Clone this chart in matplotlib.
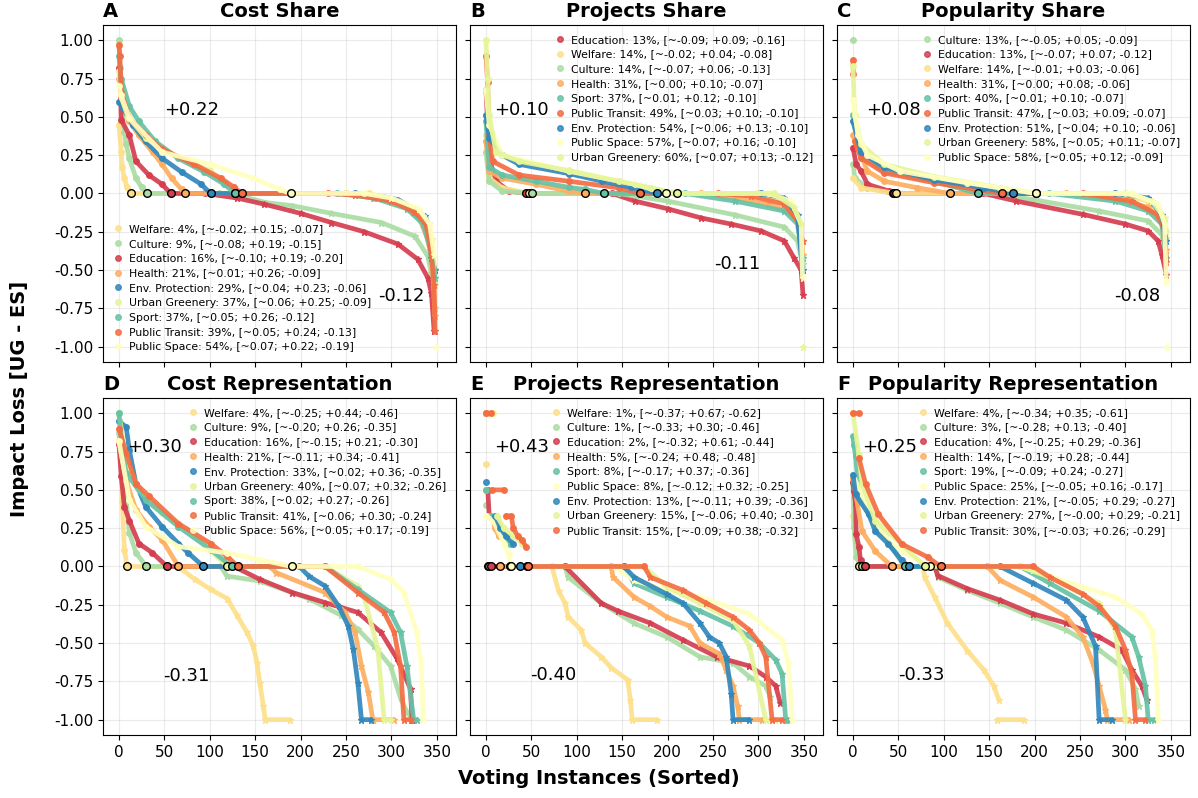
#!/usr/bin/env python3
"""
Impact loss per category: sorted voting instances, six panels
"""

import numpy as np
import matplotlib
matplotlib.use('Agg')
import matplotlib.pyplot as plt
from matplotlib.lines import Line2D

plt.rcParams['font.family'] = 'DejaVu Sans'

# Цвета категорий (палитра Spectral)
COLORS = {
    'Education': '#d53e4f',
    'Public Transit': '#f46d43',
    'Health': '#fdae61',
    'Welfare': '#fee08b',
    'Public Space': '#ffffbf',
    'Urban Greenery': '#e6f598',
    'Culture': '#abdda4',
    'Sport': '#66c2a5',
    'Env. Protection': '#3288bd',
}

N = None  # break in a curve

# ---------------- A: Cost Share ----------------
A_NAMES = ['Welfare', 'Culture', 'Education', 'Health', 'Env. Protection',
           'Urban Greenery', 'Sport', 'Public Transit', 'Public Space']
A_PCT = [4, 9, 16, 21, 29, 37, 37, 39, 54]
A_MEAN = [-0.02, -0.08, -0.10, 0.01, 0.04, 0.06, 0.05, 0.05, 0.07]
A_POS = [0.15, 0.19, 0.19, 0.26, 0.23, 0.25, 0.26, 0.24, 0.22]
A_NEG = [-0.07, -0.15, -0.20, -0.09, -0.06, -0.09, -0.12, -0.13, -0.19]
A_CURVES = [
    [(0, 0.45), (2.5, 0.27), (3.6, 0.17), (6, 0.1), (9, 0.04), (13, 0), (275, 0), (300, -0.04),
     (325, -0.1), (338, -0.2), (344, -0.33), (348, -0.5)],
    [(0, 1.0), (1, 0.82), (3, 0.6), (6, 0.4), (8, 0.32), (11.5, 0.23), (18.7, 0.1), (25, 0.04), (31, 0),
     (110, 0), (130, -0.01), (162, -0.06), (191, -0.08), (234, -0.13), (289, -0.19), (326, -0.28),
     (340, -0.41), (344, -0.52), (348, -0.75)],
    [(0, 0.82), (1.4, 0.75), (2.5, 0.48), (11.5, 0.38), (18.7, 0.21), (33, 0.12), (47.5, 0.06), (57, 0),
     (95, 0), (130, -0.03), (160, -0.07), (200, -0.13), (234, -0.19), (270, -0.25), (307, -0.33),
     (329, -0.43), (340, -0.55), (344, -0.65), (347, -0.9)],
    [(0, 0.75), (2.5, 0.7), (4.3, 0.6), (11.5, 0.47), (22, 0.38), (37, 0.27), (47.5, 0.19), (58, 0.1),
     (69, 0.026), (73, 0), (250, 0), (280, -0.03), (310, -0.07), (330, -0.15), (340, -0.3),
     (345, -0.45), (348, -0.8)],
    [(0, 0.6), (4.3, 0.56), (15, 0.45), (29.5, 0.34), (47.5, 0.23), (69, 0.14), (90.6, 0.06), (101, 0),
     (260, 0), (290, -0.02), (307, -0.04), (325, -0.1), (337, -0.15), (341, -0.2), (344, -0.42),
     (348, -0.5)],
    [(0, 0.8), (3, 0.62), (10, 0.5), (30, 0.36), (50, 0.28), (80, 0.2), (100, 0.15), (115, 0.08),
     (128, 0), (250, 0), (290, -0.02), (320, -0.08), (335, -0.15), (345, -0.3), (348, -0.6)],
    [(0, 0.9), (2.5, 0.75), (11.5, 0.57), (22, 0.47), (40, 0.34), (65, 0.23), (94, 0.14), (116, 0.06),
     (128, 0), (240, 0), (281, -0.03), (317, -0.1), (335, -0.2), (342, -0.35), (348, -0.55)],
    [(0, 0.97), (1, 0.9), (2.5, 0.66), (11.5, 0.49), (29.5, 0.38), (47.5, 0.29), (83, 0.19), (112, 0.1),
     (127, 0.04), (135, 0), (230, 0), (260, -0.01), (300, -0.05), (325, -0.12), (338, -0.2),
     (343, -0.35), (347, -0.6), (348, -0.9)],
    [(0, 0.7), (2.5, 0.64), (11.5, 0.49), (47.5, 0.27), (101, 0.19), (148, 0.1), (177, 0.026), (189, 0),
     (270, 0), (300, -0.03), (330, -0.1), (342, -0.2), (347, -0.4), N, (349, -1.0)],
]
A_TEXT = [('+0.22', 80, 0.545), ('-0.12', 311, -0.667)]

# ---------------- B: Projects Share ----------------
B_NAMES = ['Education', 'Welfare', 'Culture', 'Health', 'Sport', 'Public Transit',
           'Env. Protection', 'Public Space', 'Urban Greenery']
B_PCT = [13, 14, 14, 31, 37, 49, 54, 57, 60]
B_MEAN = [-0.09, -0.02, -0.07, 0.00, 0.01, 0.03, 0.06, 0.07, 0.07]
B_POS = [0.09, 0.04, 0.06, 0.10, 0.12, 0.10, 0.13, 0.16, 0.13]
B_NEG = [-0.16, -0.08, -0.13, -0.07, -0.10, -0.10, -0.10, -0.10, -0.12]
B_CURVES = [
    [(0, 0.675), (2, 0.45), (3.6, 0.23), (11, 0.08), (25.5, 0.015), (44.5, 0), (139, 0), (164, -0.05),
     (200, -0.1), (237, -0.16), (270, -0.2), (303, -0.245), (328.5, -0.31), (339, -0.42), (347, -0.5),
     (349, -0.66)],
    [(0, 0.38), (3.6, 0.1), (18, 0.037), (47.4, 0), (300, 0), (330, -0.05), (345, -0.2), (349, -0.4)],
    [(0, 0.27), (3.6, 0.08), (18, 0.015), (50.4, 0), (146, 0), (200, -0.05), (274, -0.14),
     (328.5, -0.22), (343, -0.31), (348.5, -0.46)],
    [(0, 0.34), (3.6, 0.145), (18, 0.1), (55, 0.06), (91, 0.015), (109.5, 0), (237, 0), (274, -0.03),
     (310, -0.07), (332, -0.115), (347, -0.2), (348.5, -0.4)],
    [(0, 0.47), (3.6, 0.17), (18, 0.12), (55, 0.08), (91, 0.04), (109.5, 0.026), (129.6, 0), (219, 0),
     (274, -0.05), (328.5, -0.115), (343, -0.2), (348.5, -0.42)],
    [(0, 0.9), (1.8, 0.73), (3.6, 0.38), (7.3, 0.21), (36.5, 0.12), (91, 0.08), (146, 0.037), (170, 0),
     (255, 0), (292, -0.017), (328.5, -0.07), (343, -0.18), (348.5, -0.31)],
    [(0, 0.51), (3.6, 0.36), (18, 0.25), (36.5, 0.19), (91, 0.13), (128, 0.08), (160, 0.04), (188, 0),
     (303, 0), (328.5, -0.03), (343, -0.14), (348.5, -0.5)],
    [(0, 0.675), (3.6, 0.45), (18, 0.25), (91, 0.145), (164, 0.06), (198.5, 0), (310, 0), (336, -0.05),
     (347, -0.2), (348.5, -0.55)],
    [(0, 1.0), (1.8, 0.75), (3.6, 0.51), (11, 0.27), (36.5, 0.21), (91, 0.15), (146, 0.08),
     (182, 0.037), (210, 0), (317, 0), (339, -0.09), (347, -0.2), N, (349, -1.0)],
]
B_TEXT = [('+0.10', 39.6, 0.545), ('-0.11', 277, -0.46)]

# ---------------- C: Popularity Share ----------------
C_NAMES = ['Culture', 'Education', 'Welfare', 'Health', 'Sport', 'Public Transit',
           'Env. Protection', 'Urban Greenery', 'Public Space']
C_PCT = [13, 13, 14, 31, 40, 47, 51, 58, 58]
C_MEAN = [-0.05, -0.07, -0.01, 0.00, 0.01, 0.03, 0.04, 0.05, 0.05]
C_POS = [0.05, 0.07, 0.03, 0.08, 0.10, 0.09, 0.10, 0.11, 0.12]
C_NEG = [-0.09, -0.12, -0.06, -0.06, -0.07, -0.07, -0.06, -0.07, -0.09]
C_CURVES = [
    [(0, 1.0), N, (0.5, 0.19), (1.8, 0.1), (16, 0.037), (43.6, 0), (151, 0), (198, -0.04),
     (271, -0.115), (325, -0.18), (340, -0.27), (345, -0.42)],
    [(0, 0.3), (3.6, 0.19), (9, 0.145), (16, 0.06), (40, 0.015), (45.5, 0), (143.6, 0), (180, -0.05),
     (252.7, -0.136), (300, -0.2), (325, -0.245), (336, -0.31), (340, -0.4), (345, -0.53)],
    [(0, 0.1), (9, 0.037), (47.3, 0), (289, 0), (325, -0.05), (340, -0.14), (345, -0.29)],
    [(0, 0.38), (5.5, 0.3), (16, 0.145), (34.5, 0.08), (71, 0.037), (107, 0), (234.5, 0), (289, -0.04),
     (325, -0.09), (340, -0.2), (345, -0.37)],
    [(0, 0.51), (9, 0.25), (34.5, 0.145), (89, 0.08), (137.5, 0), (216, 0), (289, -0.05),
     (325, -0.115), (340, -0.2), (345, -0.42)],
    [(0, 0.87), (0.5, 0.78), N, (1.8, 0.34), (9, 0.23), (34.5, 0.134), (89, 0.07), (164, 0), (253, 0),
     (307, -0.05), (336, -0.14), (343, -0.245), (345, -0.45)],
    [(0, 0.47), (9, 0.27), (34.5, 0.17), (89, 0.09), (144, 0.037), (176, 0), (289, 0), (325, -0.03),
     (340, -0.14), (345, -0.31)],
    [(0, 0.83), (1.8, 0.51), (9, 0.32), (34.5, 0.19), (89, 0.11), (162, 0.037), (201, 0), (300, 0),
     (329, -0.05), (343, -0.16), (345, -0.245)],
    [(0, 0.61), (5.5, 0.38), (16, 0.25), (52, 0.145), (125, 0.07), (202, 0), (307, 0), (336, -0.07),
     (343, -0.2), (345, -0.58), N, (346, -1.0)],
]
C_TEXT = [('+0.08', 45, 0.545), ('-0.08', 313, -0.667)]

# ---------------- D: Cost Representation ----------------
D_NAMES = ['Welfare', 'Culture', 'Education', 'Health', 'Env. Protection',
           'Urban Greenery', 'Sport', 'Public Transit', 'Public Space']
D_PCT = [4, 9, 16, 21, 33, 40, 38, 41, 56]
D_MEAN = [-0.25, -0.20, -0.15, -0.11, 0.02, 0.07, 0.02, 0.06, 0.05]
D_POS = [0.44, 0.26, 0.21, 0.34, 0.36, 0.32, 0.27, 0.30, 0.17]
D_NEG = [-0.46, -0.35, -0.30, -0.41, -0.35, -0.26, -0.26, -0.24, -0.19]
D_CURVES = [
    [(0, 1.0), (2.5, 0.8), (3.6, 0.43), (6, 0.11), (9, 0), (65, 0), (83.5, -0.084), (101, -0.15),
     (119.4, -0.21), (130, -0.32), (141, -0.43), (148, -0.52), (152, -0.63), (155, -0.76),
     (159, -0.91), (161, -1.0), (188, -1.0)],
    [(0, 0.87), (2.5, 0.69), (8, 0.43), (11.5, 0.22), (18.7, 0.09), (30, 0), (112, 0), (119, -0.063),
     (155, -0.095), (209, -0.21), (245, -0.32), (263, -0.41), (281, -0.52), (299, -0.65),
     (310, -0.86), (317, -0.95), (324, -1.0)],
    [(0, 0.8), (2.5, 0.59), (6, 0.39), (11.5, 0.3), (22, 0.15), (36.7, 0.09), (53, 0), (126.6, 0),
     (155, -0.084), (191, -0.17), (227, -0.236), (263, -0.3), (288.5, -0.43), (306, -0.6),
     (321, -0.8), (322.6, -1.0)],
    [(0, 0.82), (8, 0.56), (18.7, 0.37), (33, 0.26), (47.5, 0.175), (65.5, 0), (166, 0), (173, -0.04),
     (227, -0.17), (249, -0.3), (260, -0.43), (267, -0.65), (274.5, -0.82), (279.5, -1.0),
     (303, -1.0)],
    [(0, 0.95), (8, 0.91), (11.5, 0.76), (18.7, 0.54), (29.5, 0.39), (47.5, 0.26), (65.5, 0.15),
     (76, 0.09), (93, 0), (198.6, 0), (209, -0.063), (227, -0.128), (242, -0.26), (252.5, -0.39),
     (258, -0.54), (263, -0.76), (267, -1.0), (277.7, -1.0)],
    [(0, 1.0), (8, 0.69), (22, 0.5), (47.5, 0.35), (83.5, 0.2), (119.4, 0), (227, 0), (263, -0.128),
     (270.5, -0.21), (285, -0.54), (292, -1.0), (300, -1.0)],
    [(0, 1.0), (4, 0.75), (8, 0.61), (29.5, 0.435), (65.5, 0.26), (101, 0.11), (124, 0), (227, 0),
     (263, -0.15), (299, -0.3), (310, -0.43), (317, -0.65), (324.5, -1.0), (328, -1.0)],
    [(0, 0.9), (8, 0.74), (18.7, 0.54), (33, 0.46), (65.5, 0.28), (101, 0.15), (119, 0.067), (131, 0),
     (227, 0), (263, -0.17), (292, -0.3), (303, -0.43), (310, -0.65), (313.7, -1.0), (321, -1.0)],
    [(0, 0.82), (11.5, 0.435), (29.5, 0.26), (65.5, 0.13), (119, 0.089), (155, 0.045), (190, 0),
     (263, 0), (299, -0.084), (313.7, -0.17), (328, -0.43), (333, -0.65), (335, -1.0)],
]
D_TEXT = [('+0.30', 39.6, 0.78), ('-0.31', 74, -0.718)]

# ---------------- E: Projects Representation ----------------
E_NAMES = ['Welfare', 'Culture', 'Education', 'Health', 'Sport', 'Public Space',
           'Env. Protection', 'Urban Greenery', 'Public Transit']
E_PCT = [1, 1, 2, 5, 8, 8, 13, 15, 15]
E_MEAN = [-0.37, -0.33, -0.32, -0.24, -0.17, -0.12, -0.11, -0.06, -0.09]
E_POS = [0.67, 0.30, 0.61, 0.48, 0.37, 0.32, 0.39, 0.40, 0.38]
E_NEG = [-0.62, -0.46, -0.44, -0.48, -0.36, -0.25, -0.36, -0.30, -0.32]
E_CURVES = [
    [(0, 0.67), N, (1.8, 0), (72.5, 0), (80, -0.16), (87, -0.24), (90.6, -0.33), (105, -0.415),
     (109, -0.5), (127, -0.59), (137.7, -0.66), (156, -0.74), (159, -0.87), (161, -1.0), (188, -1.0)],
    [(0, 0.4), N, (3, 0), (87, 0), (90.6, -0.07), (127, -0.24), (163, -0.37), (199, -0.46),
     (235.5, -0.59), (272, -0.63), (290, -0.72), (308, -0.78), (313, -0.85)],
    [(0, 1.0), N, (2, 0.5), (3.6, 0.33), N, (5.4, 0), (87, 0), (127, -0.24), (145, -0.29),
     (181, -0.37), (217, -0.48), (254, -0.59), (290, -0.65), (308, -0.72), (319, -0.78), (324, -0.89)],
    [(0, 0.5), N, (2, 0.33), (6, 0.33), (10, 0.25), (14, 0.2), N, (15.6, 0), (137.7, 0), (140, -0.07),
     (163, -0.2), (181, -0.26), (199, -0.33), (224.6, -0.39), (235.5, -0.5), (257, -0.57),
     (264.5, -0.675), (272, -0.78), (277, -0.91), (279, -1.0), (304, -1.0)],
    [(0, 0.5), N, (5, 0.33), (15, 0.25), (22, 0.2), (26, 0.15), N, (27, 0), (152, 0), (163, -0.11),
     (199, -0.2), (235.5, -0.29), (272, -0.39), (301, -0.5), (319, -0.61), (326, -0.7), (330, -1.0),
     (333, -1.0)],
    [(0, 0.33), (8, 0.3), (20, 0.15), (25, 0.08), (28, 0), (141, 0), (163, -0.09), (199, -0.156),
     (235.5, -0.2), (290, -0.31), (326, -0.48), (333, -0.63), (337, -1.0)],
    [(0, 0.55), N, (10, 0.33), (16, 0.25), (22, 0.2), (30, 0.15), N, (37, 0), (152, 0), (163, -0.07),
     (199, -0.18), (217, -0.24), (235.5, -0.37), (246, -0.46), (257, -0.5), (264.5, -0.59),
     (270, -0.83), (272, -1.0), (290, -1.0)],
    [(0, 1.0), (8, 1.0), N, (12, 0.33), (20, 0.25), (30, 0.2), (40, 0.15), N, (45.5, 0), (174, 0),
     (199, -0.134), (235.5, -0.24), (272, -0.35), (290, -0.52), (308, -1.0), (318, -1.0)],
    [(0, 1.0), (6, 1.0), N, (7, 0.5), (20, 0.5), N, (22, 0.33), (28, 0.33), (30, 0.25), (35, 0.2),
     (40, 0.17), (44, 0.13), N, (46, 0), (174, 0), (181, -0.07), (217, -0.156), (242.7, -0.24),
     (272, -0.33), (290, -0.415), (301, -0.5), (308, -0.59), (315, -1.0), (326, -1.0)],
]
E_TEXT = [('+0.43', 39.8, 0.78), ('-0.40', 74.6, -0.71)]

# ---------------- F: Popularity Representation ----------------
F_NAMES = ['Welfare', 'Culture', 'Education', 'Health', 'Sport', 'Public Space',
           'Env. Protection', 'Urban Greenery', 'Public Transit']
F_PCT = [4, 3, 4, 14, 19, 25, 21, 27, 30]
F_MEAN = [-0.34, -0.28, -0.25, -0.19, -0.09, -0.05, -0.05, -0.0, -0.03]
F_POS = [0.35, 0.13, 0.29, 0.28, 0.24, 0.16, 0.29, 0.29, 0.26]
F_NEG = [-0.61, -0.40, -0.36, -0.44, -0.27, -0.17, -0.27, -0.21, -0.29]
F_CURVES = [
    [(0, 0.33), (2.9, 0.15), (7, 0), (77, 0), (79, -0.07), (90, -0.2), (104, -0.37), (126, -0.55),
     (144, -0.675), (155, -0.78), (160.5, -0.87), N, (159, -1.0), (188, -1.0)],
    [(0, 0.54), (1, 0.26), (3.6, 0.06), (9.4, 0), (90, 0), (93.5, -0.07), (126, -0.156), (162, -0.24),
     (198.5, -0.33), (235, -0.415), (271, -0.545), (300, -0.675), (311, -0.8), (314.5, -0.91)],
    [(0, 0.55), (1, 0.49), (2.9, 0.41), (3.6, 0.21), (6.5, 0.13), (8.3, 0.04), (13, 0), (90, 0),
     (93.5, -0.06), (126, -0.145), (162, -0.22), (198.5, -0.31), (235, -0.37), (271, -0.46),
     (296, -0.545), (307, -0.675), (318, -0.78), (323.5, -0.87)],
    [(0, 0.58), (10, 0.23), (24.6, 0.1), (42.8, 0), (148, 0), (162, -0.09), (198.5, -0.2),
     (235, -0.33), (253, -0.46), (264, -0.63), (271, -0.78), (278, -0.935), (280, -1.0), (303.6, -1.0)],
    [(0, 0.85), (1, 0.79), (2.9, 0.72), (6.5, 0.47), (17.4, 0.34), (35.5, 0.19), (57, 0), (184, 0),
     (216.7, -0.11), (271, -0.29), (307, -0.46), (314.5, -0.59), (322, -0.78), (325, -1.0), (331, -1.0)],
    [(0, 0.6), (13.8, 0.41), (35.5, 0.19), (53.6, 0.1), (84.4, 0), (184, 0), (198.5, -0.026),
     (253, -0.134), (289, -0.2), (318, -0.31), (329, -0.415), (333, -0.6), (336, -1.0)],
    [(0, 0.6), (2.9, 0.47), (17.4, 0.34), (24.6, 0.23), (39, 0.147), (53.6, 0.04), (61.6, 0), (162, 0),
     (198.5, -0.11), (235, -0.22), (253, -0.33), (267, -0.52), (271, -1.0), (285.5, -1.0)],
    [(0, 1.0), (6.5, 0.73), (10, 0.54), (24.6, 0.3), (53.6, 0.147), (79, 0), (184, 0), (216.7, -0.07),
     (271, -0.24), (289, -0.415), (300, -1.0)],
    [(0, 1.0), (6.5, 1.0), N, (6.5, 0.71), (13.8, 0.54), (28, 0.34), (53.6, 0.147), (82.6, 0.06),
     (96.4, 0), (198.5, 0), (216.7, -0.07), (253, -0.18), (271, -0.26), (289, -0.39), (300, -0.545),
     (307, -0.7), (311, -1.0), (321.7, -1.0)],
]
F_TEXT = [('+0.25', 40.5, 0.78), ('-0.33', 75.5, -0.71)]

PANELS = [
    ('A', 'Cost Share', A_NAMES, A_PCT, A_MEAN, A_POS, A_NEG, A_CURVES, A_TEXT, 'lower left'),
    ('B', 'Projects Share', B_NAMES, B_PCT, B_MEAN, B_POS, B_NEG, B_CURVES, B_TEXT, 'upper right'),
    ('C', 'Popularity Share', C_NAMES, C_PCT, C_MEAN, C_POS, C_NEG, C_CURVES, C_TEXT, 'upper right'),
    ('D', 'Cost Representation', D_NAMES, D_PCT, D_MEAN, D_POS, D_NEG, D_CURVES, D_TEXT, 'upper right'),
    ('E', 'Projects Representation', E_NAMES, E_PCT, E_MEAN, E_POS, E_NEG, E_CURVES, E_TEXT, 'upper right'),
    ('F', 'Popularity Representation', F_NAMES, F_PCT, F_MEAN, F_POS, F_NEG, F_CURVES, F_TEXT, 'upper right'),
]


def to_xy(knots):
    """Knots -> arrays, None becomes a gap"""
    xs, ys = [], []
    for k in knots:
        if k is None:
            xs.append(np.nan)
            ys.append(np.nan)
        else:
            xs.append(k[0])
            ys.append(k[1])
    return np.array(xs, dtype=float), np.array(ys, dtype=float)


fig, axes = plt.subplots(2, 3, figsize=(11.98, 7.98), dpi=100, sharex=True, sharey=True)
fig.subplots_adjust(left=0.086, right=0.9933, top=0.9687, bottom=0.079, wspace=0.04, hspace=0.107)

for ax, (letter, title, names, pct, mean, pos, neg, curves, texts, loc) in zip(axes.flat, PANELS):
    handles = []
    zero_pts = []
    for i, name in enumerate(names):
        c = COLORS[name]
        xs, ys = to_xy(curves[i])
        z = 2 + i * 0.01
        ax.plot(xs, ys, color=c, lw=3.4, alpha=0.92, solid_capstyle='round', zorder=z)
        # сами точки-узлы: положительные кружками, отрицательные звёздочками
        up = ys >= 0
        down = (ys < 0) & ~np.isnan(ys)
        ax.plot(xs[up], ys[up], ls='', marker='o', ms=4, color=c, alpha=0.92, zorder=z)
        ax.plot(xs[down], ys[down], ls='', marker='*', ms=5, color=c, alpha=0.92, zorder=z)
        # точка, где кривая выходит на ноль
        idx = np.where(ys == 0)[0]
        if len(idx):
            zero_pts.append((xs[idx[0]], c))
        label = f"{name}: {pct[i]}%, [~{mean[i]:.2f}; +{pos[i]:.2f}; {neg[i]:.2f}]"
        handles.append(Line2D([], [], ls='', marker='o', ms=4, color=c, alpha=0.85, label=label))

    for zx, c in zero_pts:
        ax.plot([zx], [0], ls='', marker='o', ms=5.5, mfc=c, mec='black', mew=1.0, zorder=5)

    for txt, tx, ty in texts:
        ax.text(tx, ty, txt, fontsize=13, ha='center', va='center', zorder=6)

    ax.legend(handles=handles, loc=loc, frameon=False, fontsize=7.8, handlelength=1.0,
              handletextpad=0.5, labelspacing=0.44, borderaxespad=0.5)

    ax.set_title(letter, loc='left', fontsize=14, fontweight='bold')
    ax.set_title(title, fontsize=14, fontweight='bold')
    ax.grid(True, alpha=0.25, lw=0.8)
    ax.tick_params(labelsize=11)

axes[0, 0].set_xlim(-17.5, 371)
axes[0, 0].set_ylim(-1.1, 1.1)
axes[0, 0].set_xticks(np.arange(0, 351, 50))
axes[0, 0].set_yticks(np.arange(-1.0, 1.01, 0.25))
axes[0, 0].yaxis.set_major_formatter(plt.FormatStrFormatter('%.2f'))

fig.supxlabel('Voting Instances (Sorted)', fontsize=14, fontweight='bold', y=0.012)
fig.supylabel('Impact Loss [UG - ES]', fontsize=14, fontweight='bold', x=0.008)

plt.savefig('out.png', dpi=100)
plt.close()
